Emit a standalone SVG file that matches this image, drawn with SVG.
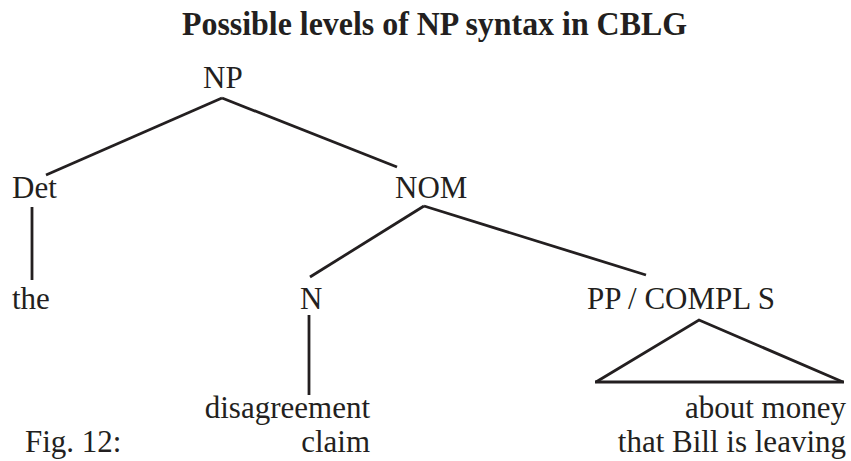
<svg xmlns="http://www.w3.org/2000/svg" width="851" height="461" viewBox="0 0 851 461">
  <style>
    .title { font-family: "Liberation Serif", "Times New Roman", serif; font-weight: bold; font-size: 33px; fill: #231f20; }
    .lbl { font-family: "Liberation Serif", "Times New Roman", serif; font-size: 31px; fill: #231f20; }
    .edge { stroke: #231f20; stroke-width: 2.8; fill: none; stroke-linecap: butt; }
  </style>
  <rect width="851" height="461" fill="#ffffff"/>

  <text class="title" x="182" y="35" textLength="505" lengthAdjust="spacingAndGlyphs">Possible levels of NP syntax in CBLG</text>

  <!-- tree branches -->
  <g id="connectors">
    <line class="edge" x1="222" y1="98" x2="46" y2="175"/>
    <line class="edge" x1="222" y1="98" x2="397" y2="167"/>
    <line class="edge" x1="32" y1="207" x2="32" y2="280"/>
    <line class="edge" x1="424" y1="206" x2="310" y2="277"/>
    <line class="edge" x1="424" y1="206" x2="646" y2="275"/>
    <line class="edge" x1="309" y1="315" x2="309" y2="395"/>
    <polyline class="edge" points="596,382 699,320 843,382"/>
    <line class="edge" x1="595" y1="382" x2="844" y2="382" stroke-width="3.4"/>
  </g>

  <g id="np"><text class="lbl" x="203" y="88">NP</text></g>
  <g id="det"><text class="lbl" x="12" y="198">Det</text></g>
  <g id="nom"><text class="lbl" x="395" y="198">NOM</text></g>
  <g id="the"><text class="lbl" x="12" y="309">the</text></g>
  <g id="n"><text class="lbl" x="300" y="309">N</text></g>
  <g id="pp"><text class="lbl" x="587" y="309">PP / COMPL S</text></g>
  <g id="noun-words">
    <text class="lbl" x="370" y="418" text-anchor="end">disagreement</text>
    <text class="lbl" x="370" y="452" text-anchor="end">claim</text>
  </g>
  <g id="complement-words">
    <text class="lbl" x="846" y="418" text-anchor="end">about money</text>
    <text class="lbl" x="846" y="452" text-anchor="end">that Bill is leaving</text>
  </g>
  <g id="caption"><text class="lbl" x="25" y="452">Fig. 12:</text></g>
</svg>
